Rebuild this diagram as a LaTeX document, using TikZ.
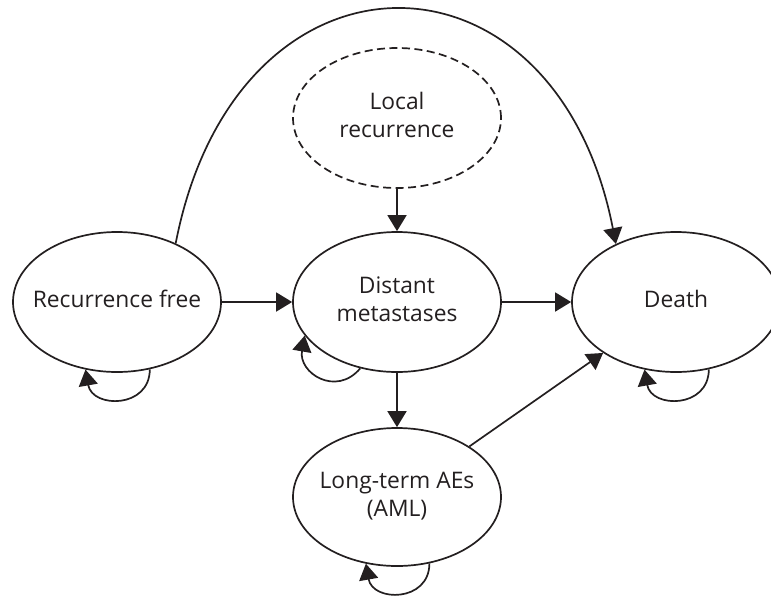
\documentclass[tikz,border=0pt]{standalone}
\usepackage{fontspec}
\setmainfont{Open Sans}
\usetikzlibrary{arrows.meta,shapes.geometric}
\definecolor{ink}{HTML}{231F20}
\newcommand\ztxt[1]{\makebox[0pt]{\begin{tabular}{@{}c@{}}#1\end{tabular}}}
\begin{document}
\begin{tikzpicture}[x=1pt,y=1pt,
  state/.style={ellipse, draw=ink, line width=1.7pt, minimum width=208pt,
    minimum height=140pt, inner sep=0pt, text=ink,
    font=\fontsize{22.8}{27.5}\selectfont},
  dashedstate/.style={state, dash pattern=on 8pt off 4.5pt},
  arr/.style={draw=ink, line width=1.7pt, -{Triangle[length=16pt,width=19pt]}}]
\useasboundingbox (0,0) rectangle (771,-595);
\node[state] (rf) at (117,-302) {\ztxt{Recurrence free}};
\node[state] (dm) at (397,-302) {\ztxt{Distant\\metastases}};
\node[state] (death) at (676,-302) {\ztxt{Death}};
\node[dashedstate] (lr) at (397,-118) {\ztxt{Local\\recurrence}};
\node[state, minimum height=138pt] (lt) at (397,-497) {\ztxt{Long-term AEs\\(AML)}};
% straight transitions
\draw[arr] (rf) -- (dm);
\draw[arr] (dm) -- (death);
\draw[arr] (lr) -- (dm);
\draw[arr] (dm) -- (lt);
\draw[arr] (lt) -- (death);
% big arc
\draw[arr] (rf.45) .. controls (236,68) and (555,68) .. (death.136);
% self loops
\draw[arr] (rf.-64) to[out=-90, in=-80, looseness=1.57] (rf.-115);
\draw[arr] (death.-64) to[out=-90, in=-80, looseness=1.57] (death.-115);
\draw[arr] (lt.-64) to[out=-90, in=-80, looseness=1.57] (lt.-115);
\draw[arr] (dm.-119) to[out=-130, in=-100, looseness=1.5] (dm.200);
\end{tikzpicture}
\end{document}
